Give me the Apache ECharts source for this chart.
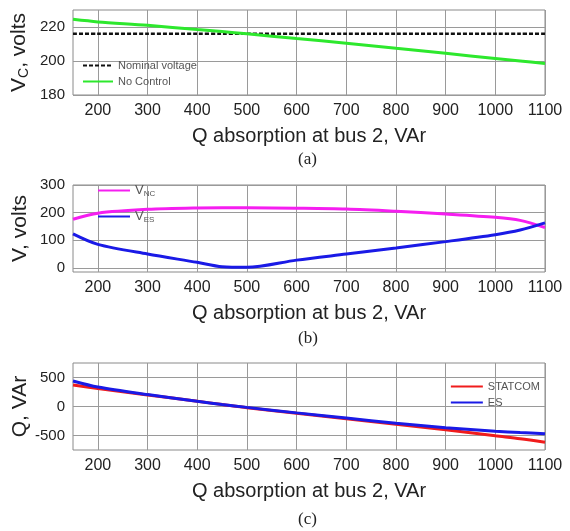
<!DOCTYPE html>
<html>
<head>
<meta charset="utf-8">
<script src="https://cdn.jsdelivr.net/npm/echarts@6/dist/echarts.min.js"></script>
<style>
  html, body { margin: 0; padding: 0; background: #fff; }
  #chart { width: 570px; height: 531px; }
</style>
</head>
<body>
<div id="chart"></div>
<script>
// Q absorption at bus 2 (VAr)
const qAbs = [150, 200, 300, 400, 450, 500, 600, 700, 800, 900, 1000, 1050, 1100]
const xTicks = [200, 300, 400, 500, 600, 700, 800, 900, 1000, 1100]

// (a) capacitor voltage
const nominalV = [216, 216, 216, 216, 216, 216, 216, 216, 216, 216, 216, 216, 216]
const noControl = [224.5, 223, 221, 218.5, 217.3, 216, 213.2, 210.5, 207.5, 204.5, 201.5, 200, 198.5]

// (b) voltages
const vNC = [176, 198, 212, 217, 217.5, 217.5, 216, 213, 205, 195, 183, 172, 146]
const vES = [123, 85, 50, 20, 4, 2, 28, 50, 72, 95, 120, 137, 163]

// (c) reactive power
const qStatcom = [370, 310, 200, 90, 35, -20, -115, -210, -305, -400, -505, -555, -615]
const qES = [440, 335, 205, 90, 35, -15, -110, -200, -290, -365, -425, -450, -470]

const yTicksA = [180, 200, 220]
const yTicksB = [0, 100, 200, 300]
const yTicksC = [-500, 0, 500]

const pairs = ys => qAbs.map((x, i) => [x, ys[i]])

const font = '"Liberation Sans Narrow", "Liberation Sans", Arial, sans-serif'
const gridColor = '#9a9a9a'

const grids = [
  { left: 73, right: 25, top: 10, height: 85 },
  { left: 73, right: 25, top: 185, height: 87 },
  { left: 73, right: 25, top: 363, height: 87 }
].map(g => Object.assign(g, { show: true, outerBoundsMode: 'none', containLabel: false, borderColor: '#8a8a8a', borderWidth: 1, backgroundColor: '#fff' }))

const xAxis = [0, 1, 2].map(i => ({
  type: 'value',
  gridIndex: i,
  min: 150,
  max: 1100,
  name: 'Q absorption at bus 2, VAr',
  nameLocation: 'middle',
  nameGap: 31,
  nameTextStyle: { fontFamily: font, fontSize: 20, color: '#222' },
  axisLine: { show: false },
  axisTick: { show: false, customValues: xTicks },
  axisLabel: { customValues: xTicks, formatter: v => String(v), fontFamily: font, fontSize: 16, color: '#222', margin: 8 },
  splitLine: { show: true, lineStyle: { color: gridColor, width: 1 } }
}))

function yAxisOf (i, min, max, ticks, name) {
  return {
    type: 'value',
    gridIndex: i,
    min: min,
    max: max,
    name: name,
    nameLocation: 'middle',
    nameGap: 42,
    nameMoveOverlap: false,
    nameTextStyle: {
      fontFamily: font, fontSize: 21, color: '#222',
      rich: {
        a: { fontFamily: font, fontSize: 21, color: '#222' },
        s: { fontFamily: font, fontSize: 14, color: '#222', padding: [10, 0, 0, 0] }
      }
    },
    axisLine: { show: false },
    axisTick: { show: false, customValues: ticks },
    axisLabel: { customValues: ticks, formatter: v => String(v), fontFamily: font, fontSize: 15, color: '#222', margin: 8 },
    splitLine: { show: true, lineStyle: { color: gridColor, width: 1 } }
  }
}

const yAxis = [
  yAxisOf(0, 180, 230, yTicksA, '{a|V}{s|C}{a|, volts}'),
  yAxisOf(1, -15, 300, yTicksB, 'V, volts'),
  yAxisOf(2, -750, 750, yTicksC, 'Q, VAr')
]

function line (name, idx, ys, color, extra) {
  return {
    name: name,
    type: 'line',
    xAxisIndex: idx,
    yAxisIndex: idx,
    data: pairs(ys),
    symbol: 'none',
    smooth: 0.3,
    lineStyle: Object.assign({ color: color, width: 3 }, extra || {}),
    itemStyle: { color: color },
    z: 3
  }
}

const legendText = {
  fontFamily: font, fontSize: 11, color: '#555',
  rich: {
    v: { fontFamily: font, fontSize: 13, color: '#555' },
    s: { fontFamily: font, fontSize: 8, color: '#555', padding: [7, 0, 0, 0] }
  }
}
const legendBase = { orient: 'vertical', itemHeight: 10, itemStyle: { opacity: 0 }, textStyle: legendText }

const option = {
  animation: false,
  backgroundColor: '#fff',
  title: [
    { text: '(a)', left: 293, top: 146 },
    { text: '(b)', left: 293, top: 325 },
    { text: '(c)', left: 293, top: 506 }
  ].map(t => Object.assign(t, { textStyle: { fontFamily: '"Liberation Serif", serif', fontSize: 17, fontWeight: 'normal', color: '#222' } })),
  grid: grids,
  xAxis: xAxis,
  yAxis: yAxis,
  legend: [
    Object.assign({ data: ['Nominal voltage', 'No Control'], left: 77, top: 55, itemGap: 5, itemWidth: 30 }, legendBase),
    Object.assign({ data: ['VNC', 'VES'], left: 92, top: 179, itemGap: 12, itemWidth: 32,
      formatter: n => n === 'VNC' ? '{v|V}{s|NC}' : '{v|V}{s|ES}' }, legendBase),
    Object.assign({ data: ['STATCOM', 'ES'], right: 25, top: 376, itemGap: 5, itemWidth: 32 }, legendBase)
  ],
  series: [
    line('Nominal voltage', 0, nominalV, '#111', { type: [4, 2], width: 2.5 }),
    line('No Control', 0, noControl, '#2de82d'),
    line('VNC', 1, vNC, '#f51ef0'),
    line('VES', 1, vES, '#1a1ae6'),
    line('STATCOM', 2, qStatcom, '#f01c1c'),
    line('ES', 2, qES, '#1a1ae6')
  ]
}

const chart = echarts.init(document.getElementById('chart'), null, { renderer: 'canvas' })
chart.setOption(option)
</script>
</body>
</html>
